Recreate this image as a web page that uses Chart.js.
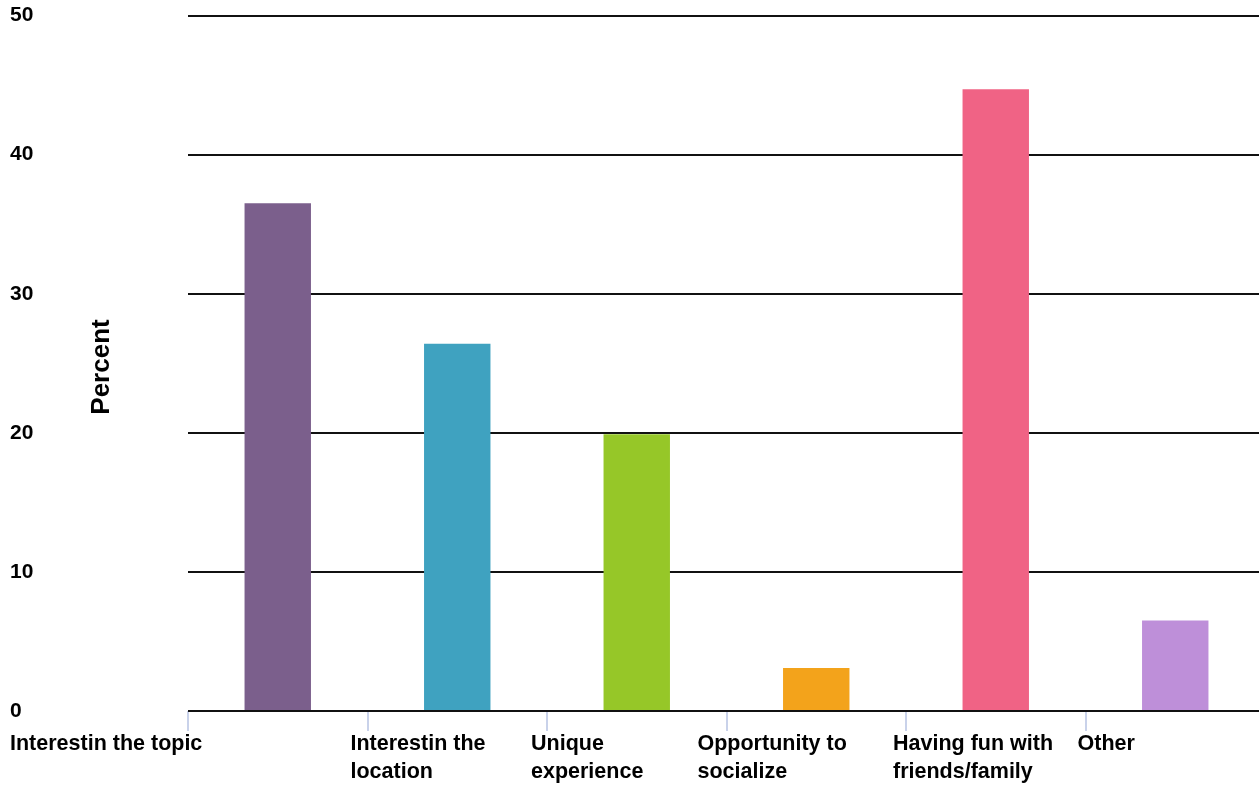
<!DOCTYPE html>
<html>
<head>
<meta charset="utf-8">
<script src="https://cdn.jsdelivr.net/npm/chart.js@4.4.1/dist/chart.umd.min.js"></script>
<style>
  html,body{margin:0;padding:0;background:#fff;overflow:hidden;}
  #wrap{width:1265px;height:785px;position:relative;}
</style>
</head>
<body>
<div id="wrap"><canvas id="c"></canvas></div>
<script>
// reasons for attending, percent of respondents
const categories = [
  ['Interestin the topic'],
  ['Interestin the', 'location'],
  ['Unique', 'experience'],
  ['Opportunity to', 'socialize'],
  ['Having fun with', 'friends/family'],
  ['Other']
];
const percents = [36.5, 26.4, 19.9, 3.1, 44.7, 6.5];
const barColors = ['#7b5f8c', '#3fa2c0', '#96c728', '#f3a31b', '#f06385', '#be8fd9'];
const yTicks = [0, 10, 20, 30, 40, 50];
const yTitle = 'Percent';

const FAMILY = '"Liberation Sans", Arial, sans-serif';
// label left edge relative to the category's left boundary
const labelShift = [-178, -17, -16, -29, -13, -8];

const labelsPlugin = {
  id: 'catLabels',
  afterDraw(chart){
    const ctx = chart.ctx, xs = chart.scales.x, ys = chart.scales.y;
    const half = (xs.getPixelForValue(1) - xs.getPixelForValue(0)) / 2;
    ctx.save();
    ctx.font = 'bold 21.5px ' + FAMILY;
    ctx.fillStyle = '#000';
    ctx.textBaseline = 'middle';
    ctx.textAlign = 'left';
    categories.forEach((lines, i) => {
      const left = xs.getPixelForValue(i) - half + labelShift[i];
      lines.forEach((t, j) => ctx.fillText(t, left, ys.bottom + 33 + j * 28));
    });
    // rotated axis title
    ctx.font = 'bold 26px ' + FAMILY;
    ctx.translate(102, 367);
    ctx.rotate(-Math.PI / 2);
    ctx.textAlign = 'center';
    ctx.fillText(yTitle, 0, 0);
    ctx.restore();
  }
};

new Chart(document.getElementById('c'), {
  type: 'bar',
  data: {
    labels: categories.map(l => l.join(' ')),
    datasets: [{
      data: percents,
      backgroundColor: barColors,
      barPercentage: 0.37,
      categoryPercentage: 1
    }]
  },
  options: {
    responsive: true,
    maintainAspectRatio: false,
    animation: false,
    layout: { padding: { left: 10, right: 0, top: 2, bottom: 0 } },
    plugins: { legend: { display: false }, tooltip: { enabled: false } },
    scales: {
      x: {
        offset: true,
        border: { display: false },
        grid: { offset: true, drawOnChartArea: false, drawTicks: true, tickLength: 20, color: '#c9d2ea', lineWidth: 2 },
        ticks: { display: false },
        afterFit: s => { s.height = 74; }
      },
      y: {
        min: 0, max: 50,
        afterBuildTicks: s => { s.ticks = yTicks.map(v => ({ value: v })); },
        border: { display: false },
        grid: { color: '#111', lineWidth: 2, drawTicks: false },
        ticks: {
          crossAlign: 'far',
          color: '#000',
          font: { family: FAMILY, size: 21, weight: 'bold' }
        },
        afterFit: s => { s.width = 178; }
      }
    }
  },
  plugins: [labelsPlugin]
});
</script>
</body>
</html>
